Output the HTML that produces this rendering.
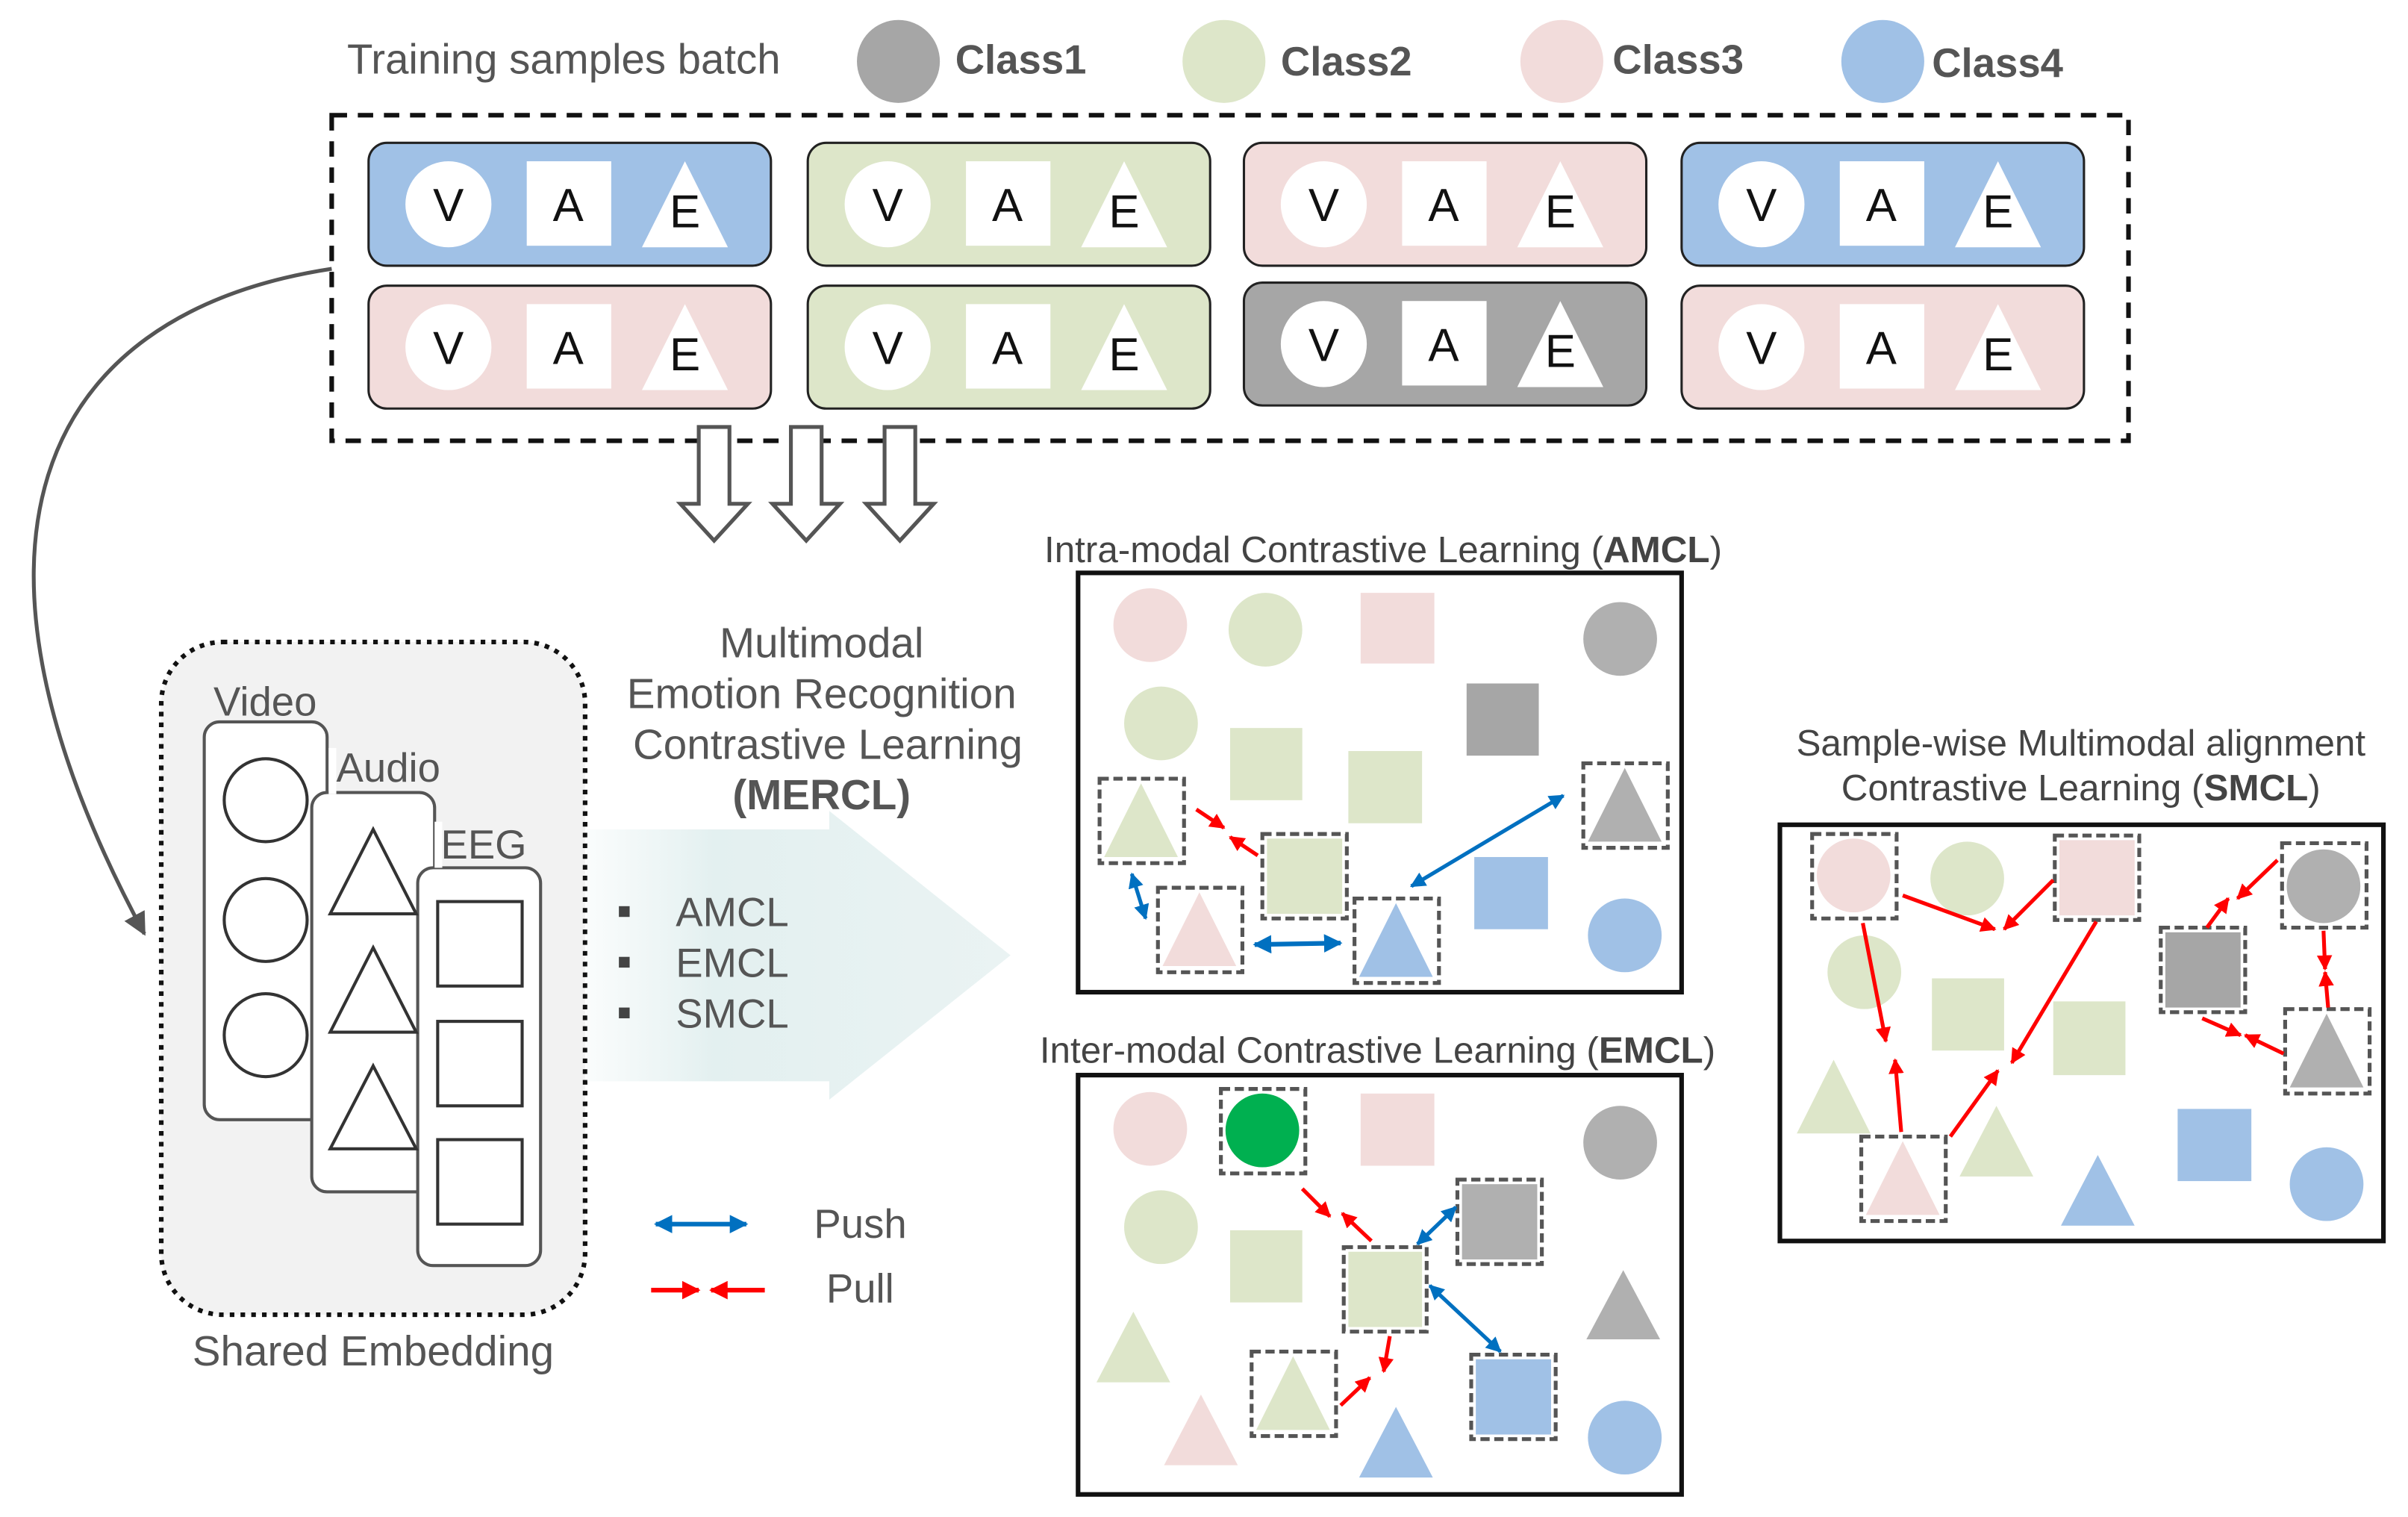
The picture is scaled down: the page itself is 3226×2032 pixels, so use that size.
<!DOCTYPE html>
<html><head><meta charset="utf-8"><style>
html,body{margin:0;padding:0;background:#fff}
svg{display:block}
text{font-family:"Liberation Sans",sans-serif}
</style></head><body>
<svg width="3226" height="2032" viewBox="0 0 1568 987.7" preserveAspectRatio="none" xmlns="http://www.w3.org/2000/svg">
<defs>
<marker id="r" viewBox="0 0 10 10" refX="9" refY="5" markerWidth="4" markerHeight="4" orient="auto-start-reverse"><path d="M0,0L10,5L0,10z" fill="#ff0000"/></marker>
<marker id="b" viewBox="0 0 10 10" refX="9" refY="5" markerWidth="4" markerHeight="4" orient="auto-start-reverse"><path d="M0,0L10,5L0,10z" fill="#0070c0"/></marker>
<marker id="g" viewBox="0 0 10 10" refX="9" refY="5" markerWidth="6" markerHeight="6" orient="auto"><path d="M0,0L10,5L0,10z" fill="#555"/></marker>
<linearGradient id="ag" x1="0" x2="1" y1="0" y2="0"><stop offset="0" stop-color="#e6f1f1" stop-opacity="0.2"/><stop offset="0.3" stop-color="#e3f0f0"/><stop offset="1" stop-color="#eaf3f3"/></linearGradient>
</defs>

<text x="226" y="48" font-size="27.4" fill="#555">Training samples batch</text>
<circle cx="585" cy="40" r="27" fill="#a6a6a6"/><text x="622" y="48" font-size="26.5" font-weight="bold" fill="#555">Class1</text>
<circle cx="797" cy="40" r="27" fill="#dde6c9"/><text x="834" y="49" font-size="26.5" font-weight="bold" fill="#555">Class2</text>
<circle cx="1017" cy="40" r="27" fill="#f2dcdb"/><text x="1050" y="48" font-size="26.5" font-weight="bold" fill="#555">Class3</text>
<circle cx="1226" cy="40" r="27" fill="#a0c1e6"/><text x="1258" y="50" font-size="26.5" font-weight="bold" fill="#555">Class4</text>

<rect x="216" y="75" width="1170" height="212" fill="none" stroke="#111" stroke-width="3" stroke-dasharray="10,7"/>

<g id="cards" font-size="30" fill="#111">
<g transform="translate(240,93)"><rect width="262" height="80" rx="12" fill="#a0c1e6" stroke="#222" stroke-width="1.5"/><circle cx="52" cy="40" r="28" fill="#fff"/><rect x="103" y="12" width="55" height="55" fill="#fff"/><polygon points="206,12 234,68 178,68" fill="#fff"/><text x="52" y="51" text-anchor="middle">V</text><text x="130" y="51" text-anchor="middle">A</text><text x="206" y="55" text-anchor="middle">E</text></g>
<g transform="translate(526,93)"><rect width="262" height="80" rx="12" fill="#dde6c9" stroke="#222" stroke-width="1.5"/><circle cx="52" cy="40" r="28" fill="#fff"/><rect x="103" y="12" width="55" height="55" fill="#fff"/><polygon points="206,12 234,68 178,68" fill="#fff"/><text x="52" y="51" text-anchor="middle">V</text><text x="130" y="51" text-anchor="middle">A</text><text x="206" y="55" text-anchor="middle">E</text></g>
<g transform="translate(810,93)"><rect width="262" height="80" rx="12" fill="#f2dcdb" stroke="#222" stroke-width="1.5"/><circle cx="52" cy="40" r="28" fill="#fff"/><rect x="103" y="12" width="55" height="55" fill="#fff"/><polygon points="206,12 234,68 178,68" fill="#fff"/><text x="52" y="51" text-anchor="middle">V</text><text x="130" y="51" text-anchor="middle">A</text><text x="206" y="55" text-anchor="middle">E</text></g>
<g transform="translate(1095,93)"><rect width="262" height="80" rx="12" fill="#a0c1e6" stroke="#222" stroke-width="1.5"/><circle cx="52" cy="40" r="28" fill="#fff"/><rect x="103" y="12" width="55" height="55" fill="#fff"/><polygon points="206,12 234,68 178,68" fill="#fff"/><text x="52" y="51" text-anchor="middle">V</text><text x="130" y="51" text-anchor="middle">A</text><text x="206" y="55" text-anchor="middle">E</text></g>
<g transform="translate(240,186)"><rect width="262" height="80" rx="12" fill="#f2dcdb" stroke="#222" stroke-width="1.5"/><circle cx="52" cy="40" r="28" fill="#fff"/><rect x="103" y="12" width="55" height="55" fill="#fff"/><polygon points="206,12 234,68 178,68" fill="#fff"/><text x="52" y="51" text-anchor="middle">V</text><text x="130" y="51" text-anchor="middle">A</text><text x="206" y="55" text-anchor="middle">E</text></g>
<g transform="translate(526,186)"><rect width="262" height="80" rx="12" fill="#dde6c9" stroke="#222" stroke-width="1.5"/><circle cx="52" cy="40" r="28" fill="#fff"/><rect x="103" y="12" width="55" height="55" fill="#fff"/><polygon points="206,12 234,68 178,68" fill="#fff"/><text x="52" y="51" text-anchor="middle">V</text><text x="130" y="51" text-anchor="middle">A</text><text x="206" y="55" text-anchor="middle">E</text></g>
<g transform="translate(810,184)"><rect width="262" height="80" rx="12" fill="#a6a6a6" stroke="#222" stroke-width="1.5"/><circle cx="52" cy="40" r="28" fill="#fff"/><rect x="103" y="12" width="55" height="55" fill="#fff"/><polygon points="206,12 234,68 178,68" fill="#fff"/><text x="52" y="51" text-anchor="middle">V</text><text x="130" y="51" text-anchor="middle">A</text><text x="206" y="55" text-anchor="middle">E</text></g>
<g transform="translate(1095,186)"><rect width="262" height="80" rx="12" fill="#f2dcdb" stroke="#222" stroke-width="1.5"/><circle cx="52" cy="40" r="28" fill="#fff"/><rect x="103" y="12" width="55" height="55" fill="#fff"/><polygon points="206,12 234,68 178,68" fill="#fff"/><text x="52" y="51" text-anchor="middle">V</text><text x="130" y="51" text-anchor="middle">A</text><text x="206" y="55" text-anchor="middle">E</text></g>
</g>

<g fill="#fff" stroke="#555" stroke-width="2.5">
<path d="M455,278h20v50h12l-22,24l-22,-24h12z"/>
<path d="M515,278h20v50h12l-22,24l-22,-24h12z"/>
<path d="M576,278h20v50h12l-22,24l-22,-24h12z"/>
</g>

<path d="M216,175 C 20,205 -40,360 94,608" fill="none" stroke="#555" stroke-width="2.5" marker-end="url(#g)"/>

<rect x="105" y="418" width="276" height="438" rx="40" fill="#f2f2f2" stroke="#111" stroke-width="3" stroke-dasharray="3,4"/>
<g fill="#fff" stroke="#555" stroke-width="2">
<rect x="133" y="470" width="80" height="259" rx="10"/>
<rect x="203" y="516" width="80" height="260" rx="10"/>
<rect x="272" y="565" width="80" height="259" rx="10"/>
</g>
<g fill="none" stroke="#333" stroke-width="2">
<circle cx="173" cy="521" r="27"/><circle cx="173" cy="599" r="27"/><circle cx="173" cy="674" r="27"/>
<polygon points="243,540 271,595 215,595"/><polygon points="243,617 271,672 215,672"/><polygon points="243,694 271,748 215,748"/>
<rect x="285" y="587" width="55" height="55"/><rect x="285" y="665" width="55" height="55"/><rect x="285" y="742" width="55" height="55"/>
</g>
<rect x="214" y="487" width="5" height="30" fill="#fff"/>
<rect x="283" y="535" width="5" height="30" fill="#fff"/>
<text x="139" y="466" font-size="26.5" fill="#555">Video</text>
<text x="219" y="509" font-size="26.5" fill="#555">Audio</text>
<text x="287" y="559" font-size="26.5" fill="#555">EEG</text>
<text x="243" y="889" font-size="27.5" fill="#555" text-anchor="middle">Shared Embedding</text>

<path d="M382,540 H540 V528 L658,622 L540,716 V704 H382 Z" fill="url(#ag)"/>
<g font-size="27.5" fill="#555" text-anchor="middle">
<text x="535" y="428">Multimodal</text>
<text x="535" y="461">Emotion Recognition</text>
<text x="539" y="494">Contrastive Learning</text>
<text x="535" y="527" font-weight="bold">(MERCL)</text>
</g>
<g font-size="26.5" fill="#555">
<rect x="403" y="590" width="7" height="7" fill="#444"/><text x="440" y="603">AMCL</text>
<rect x="403" y="623" width="7" height="7" fill="#444"/><text x="440" y="636">EMCL</text>
<rect x="403" y="656" width="7" height="7" fill="#444"/><text x="440" y="669">SMCL</text>
<text x="530" y="806">Push</text>
<text x="538" y="848">Pull</text>
</g>
<line x1="427" y1="797" x2="486" y2="797" stroke="#0070c0" stroke-width="3" marker-start="url(#b)" marker-end="url(#b)"/>
<line x1="424" y1="840" x2="455" y2="840" stroke="#ff0000" stroke-width="3" marker-end="url(#r)"/>
<line x1="498" y1="840" x2="463" y2="840" stroke="#ff0000" stroke-width="3" marker-end="url(#r)"/>

<text x="680" y="366" font-size="24" fill="#444">Intra-modal Contrastive Learning (<tspan font-weight="bold">AMCL</tspan>)</text>
<rect x="702" y="373" width="393" height="273" fill="#fff" stroke="#111" stroke-width="3"/>
<circle cx="749" cy="407" r="24" fill="#f2dcdb"/>
<circle cx="824" cy="410" r="24" fill="#dde6c9"/>
<rect x="886" y="386" width="48" height="46" fill="#f2dcdb"/>
<circle cx="1055" cy="416" r="24" fill="#b0b0b0"/>
<circle cx="756" cy="471" r="24" fill="#dde6c9"/>
<rect x="955" y="445" width="47" height="47" fill="#a6a6a6"/>
<rect x="801" y="474" width="47" height="47" fill="#dde6c9"/>
<rect x="878" y="489" width="48" height="47" fill="#dde6c9"/>
<rect x="960" y="558" width="48" height="47" fill="#a0c1e6"/>
<circle cx="1058" cy="609" r="24" fill="#a0c1e6"/>
<g stroke="#555" stroke-width="2.5" stroke-dasharray="6,3">
<rect x="716" y="507" width="55" height="55" fill="#fff"/>
<rect x="822" y="543" width="55" height="55" fill="#fff"/>
<rect x="1031" y="497" width="55" height="55" fill="#fff"/>
<rect x="754" y="578" width="55" height="55" fill="#fff"/>
<rect x="882" y="585" width="55" height="55" fill="#fff"/>
</g>
<polygon points="743,510 767,558 719,558" fill="#dde6c9"/>
<rect x="825" y="546" width="49" height="49" fill="#dde6c9"/>
<polygon points="1058,500 1082,548 1034,548" fill="#b0b0b0"/>
<polygon points="781,581 805,629 757,629" fill="#f2dcdb"/>
<polygon points="909,588 933,636 885,636" fill="#a0c1e6"/>
<line x1="779" y1="527" x2="797" y2="539" stroke="#f00" stroke-width="2.5" marker-end="url(#r)"/>
<line x1="819" y1="557" x2="801" y2="545" stroke="#f00" stroke-width="2.5" marker-end="url(#r)"/>
<line x1="737" y1="569" x2="746" y2="598" stroke="#0070c0" stroke-width="2.5" marker-start="url(#b)" marker-end="url(#b)"/>
<line x1="817" y1="615" x2="873" y2="614" stroke="#0070c0" stroke-width="3" marker-start="url(#b)" marker-end="url(#b)"/>
<line x1="919" y1="577" x2="1018" y2="518" stroke="#0070c0" stroke-width="2.5" marker-start="url(#b)" marker-end="url(#b)"/>

<text x="677" y="692" font-size="24" fill="#444">Inter-modal Contrastive Learning (<tspan font-weight="bold">EMCL</tspan>)</text>
<rect x="702" y="700" width="393" height="273" fill="#fff" stroke="#111" stroke-width="3"/>
<circle cx="749" cy="735" r="24" fill="#f2dcdb"/>
<rect x="886" y="712" width="48" height="47" fill="#f2dcdb"/>
<circle cx="1055" cy="744" r="24" fill="#b0b0b0"/>
<circle cx="756" cy="799" r="24" fill="#dde6c9"/>
<rect x="801" y="801" width="47" height="47" fill="#dde6c9"/>
<polygon points="1057,827 1081,872 1033,872" fill="#b0b0b0"/>
<polygon points="738,854 762,900 714,900" fill="#dde6c9"/>
<polygon points="782,908 806,954 758,954" fill="#f2dcdb"/>
<polygon points="909,916 933,962 885,962" fill="#a0c1e6"/>
<circle cx="1058" cy="936" r="24" fill="#a0c1e6"/>
<g stroke="#555" stroke-width="2.5" stroke-dasharray="6,3">
<rect x="795" y="709" width="55" height="55" fill="#fff"/>
<rect x="875" y="812" width="54" height="55" fill="#fff"/>
<rect x="949" y="768" width="55" height="55" fill="#fff"/>
<rect x="815" y="880" width="55" height="55" fill="#fff"/>
<rect x="958" y="882" width="55" height="55" fill="#fff"/>
</g>
<circle cx="822" cy="736" r="24" fill="#00b050"/>
<rect x="878" y="815" width="48" height="49" fill="#dde6c9"/>
<rect x="952" y="771" width="49" height="49" fill="#b0b0b0"/>
<polygon points="842,883 866,931 818,931" fill="#dde6c9"/>
<rect x="961" y="885" width="49" height="49" fill="#a0c1e6"/>
<line x1="848" y1="774" x2="866" y2="792" stroke="#f00" stroke-width="2.5" marker-end="url(#r)"/>
<line x1="893" y1="808" x2="874" y2="790" stroke="#f00" stroke-width="2.5" marker-end="url(#r)"/>
<line x1="923" y1="810" x2="948" y2="786" stroke="#0070c0" stroke-width="2.5" marker-start="url(#b)" marker-end="url(#b)"/>
<line x1="931" y1="837" x2="977" y2="880" stroke="#0070c0" stroke-width="2.5" marker-start="url(#b)" marker-end="url(#b)"/>
<line x1="905" y1="870" x2="901" y2="893" stroke="#f00" stroke-width="2.5" marker-end="url(#r)"/>
<line x1="873" y1="915" x2="892" y2="897" stroke="#f00" stroke-width="2.5" marker-end="url(#r)"/>

<text x="1355" y="492" font-size="24" fill="#444" text-anchor="middle">Sample-wise Multimodal alignment</text>
<text x="1355" y="521" font-size="24" fill="#444" text-anchor="middle">Contrastive Learning (<tspan font-weight="bold">SMCL</tspan>)</text>
<rect x="1159" y="537" width="393" height="271" fill="#fff" stroke="#111" stroke-width="3"/>
<circle cx="1281" cy="572" r="24" fill="#dde6c9"/>
<circle cx="1214" cy="633" r="24" fill="#dde6c9"/>
<rect x="1258" y="637" width="47" height="47" fill="#dde6c9"/>
<rect x="1337" y="652" width="47" height="48" fill="#dde6c9"/>
<polygon points="1194,690 1218,738 1170,738" fill="#dde6c9"/>
<polygon points="1300,720 1324,766 1276,766" fill="#dde6c9"/>
<rect x="1418" y="722" width="48" height="47" fill="#a0c1e6"/>
<polygon points="1366,752 1390,798 1342,798" fill="#a0c1e6"/>
<circle cx="1515" cy="771" r="24" fill="#a0c1e6"/>
<g stroke="#555" stroke-width="2.5" stroke-dasharray="6,3">
<rect x="1180" y="543" width="55" height="55" fill="#fff"/>
<rect x="1338" y="544" width="55" height="55" fill="#fff"/>
<rect x="1486" y="549" width="55" height="55" fill="#fff"/>
<rect x="1407" y="604" width="55" height="55" fill="#fff"/>
<rect x="1488" y="657" width="55" height="55" fill="#fff"/>
<rect x="1212" y="740" width="55" height="55" fill="#fff"/>
</g>
<circle cx="1207" cy="570" r="24" fill="#f2dcdb"/>
<rect x="1341" y="547" width="49" height="49" fill="#f2dcdb"/>
<circle cx="1513" cy="577" r="24" fill="#b0b0b0"/>
<rect x="1410" y="607" width="49" height="49" fill="#a6a6a6"/>
<polygon points="1515,660 1539,708 1491,708" fill="#b0b0b0"/>
<polygon points="1239,743 1263,791 1215,791" fill="#f2dcdb"/>
<g stroke="#f00" stroke-width="2.5">
<line x1="1239" y1="583" x2="1299" y2="605" marker-end="url(#r)"/>
<line x1="1337" y1="573" x2="1305" y2="605" marker-end="url(#r)"/>
<line x1="1213" y1="601" x2="1228" y2="678" marker-end="url(#r)"/>
<line x1="1238" y1="737" x2="1234" y2="690" marker-end="url(#r)"/>
<line x1="1365" y1="600" x2="1310" y2="692" marker-end="url(#r)"/>
<line x1="1270" y1="740" x2="1301" y2="697" marker-end="url(#r)"/>
<line x1="1483" y1="560" x2="1457" y2="585" marker-end="url(#r)"/>
<line x1="1437" y1="604" x2="1451" y2="585" marker-end="url(#r)"/>
<line x1="1513" y1="606" x2="1514" y2="631" marker-end="url(#r)"/>
<line x1="1516" y1="656" x2="1514" y2="633" marker-end="url(#r)"/>
<line x1="1434" y1="663" x2="1459" y2="674" marker-end="url(#r)"/>
<line x1="1487" y1="686" x2="1462" y2="674" marker-end="url(#r)"/>
</g>
</svg>
</body></html>
